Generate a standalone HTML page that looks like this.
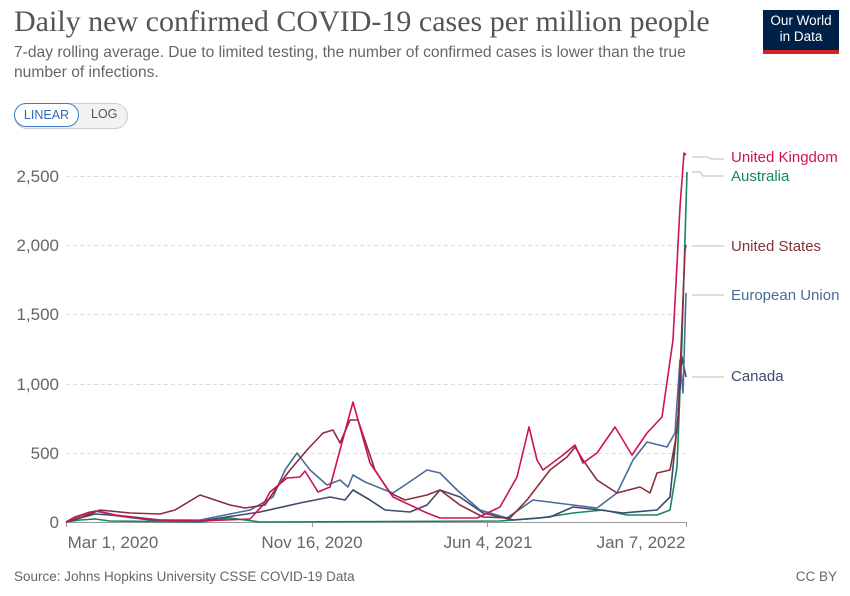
<!DOCTYPE html>
<html><head><meta charset="utf-8"><style>
body{margin:0;width:850px;height:596px;background:#fff;overflow:hidden;font-family:"Liberation Sans",sans-serif;position:relative}
.t{position:absolute;white-space:nowrap}
</style></head><body>
<div class="t" style="left:14px;top:5px;font-family:'Liberation Serif',serif;font-size:30px;color:#555">Daily new confirmed COVID-19 cases per million people</div>
<div class="t" style="left:14px;top:43px;font-size:15.6px;color:#666;line-height:20px">7-day rolling average. Due to limited testing, the number of confirmed cases is lower than the true<br>number of infections.</div>
<div style="position:absolute;left:763px;top:10px;width:76px;height:44px;background:#002147"></div>
<div style="position:absolute;left:763px;top:50px;width:76px;height:4px;background:#ce261e"></div>
<div class="t" style="left:763px;top:13px;width:76px;text-align:center;color:#fff;font-size:13.5px;line-height:16px">Our World<br>in Data</div>
<div style="position:absolute;left:14px;top:103px;width:112px;height:24px;border:1px solid #ccc;border-radius:13px;background:#f2f2f2"></div>
<div style="position:absolute;left:14px;top:103px;width:63px;height:22px;border:1px solid #3d7cc9;border-radius:13px;background:#fff;color:#2f6bb5;font-size:12.5px;text-align:center;line-height:22px">LINEAR</div>
<div class="t" style="left:91px;top:107px;font-size:12.5px;color:#555">LOG</div>
<svg width="850" height="596" style="position:absolute;left:0;top:0" font-family="Liberation Sans" >
<g stroke="#ddd" stroke-dasharray="4,3" stroke-width="1">
<line x1="66" x2="686" y1="453.5" y2="453.5"/><line x1="66" x2="686" y1="384.5" y2="384.5"/><line x1="66" x2="686" y1="314.5" y2="314.5"/><line x1="66" x2="686" y1="245.5" y2="245.5"/><line x1="66" x2="686" y1="176.5" y2="176.5"/>
</g>
<line x1="66" x2="686" y1="522.5" y2="522.5" stroke="#999"/>
<g stroke="#999"><line x1="66.5" x2="66.5" y1="522" y2="527"/><line x1="312.5" x2="312.5" y1="522" y2="527"/><line x1="487.5" x2="487.5" y1="522" y2="527"/><line x1="686.5" x2="686.5" y1="522" y2="527"/></g>
<g font-size="17" fill="#666" text-anchor="end">
<text x="59" y="528">0</text><text x="59" y="459">500</text><text x="59" y="390">1,000</text><text x="59" y="320">1,500</text><text x="59" y="251">2,000</text><text x="59" y="182">2,500</text>
</g>
<g font-size="17" fill="#666" text-anchor="middle">
<text x="113" y="548">Mar 1, 2020</text><text x="312" y="548">Nov 16, 2020</text><text x="488" y="548">Jun 4, 2021</text><text x="641" y="548">Jan 7, 2022</text>
</g>
<g fill="none" stroke-width="1.6" stroke-linejoin="round">
<polyline stroke="#18875a" points="66,522 80,520 95,519 110,521 200,522 230,518 260,522 500,521 540,518 573,513 603,510 627,515 657,515 670,510 677,467 682,340 687,172"/>
<polyline stroke="#3b4b6b" points="66,522 80,518 95,514 110,515 150,520 200,521 260,512 300,503 330,497 345,500 353,490 370,500 385,510 410,512 427,505 440,490 460,497 483,513 513,520 550,517 573,507 600,510 623,513 657,510 670,497 678,417 682,357 686,377"/>
<polyline stroke="#4c6a9c" points="66,522 80,516 95,511 115,515 160,520 200,520 250,510 273,497 285,470 297,453 310,470 327,485 340,480 348,487 353,475 365,482 385,490 393,493 405,485 427,470 440,473 457,490 480,510 507,518 533,500 573,505 597,508 617,493 633,460 647,442 667,447 675,433 680,360 683,393 686,293"/>
<polyline stroke="#883039" points="66,522 80,518 100,510 130,513 160,514 175,510 200,495 230,505 245,508 265,505 275,490 290,470 307,450 323,433 333,430 340,443 350,420 358,420 375,470 390,493 405,500 427,495 440,490 460,505 483,517 510,518 527,500 550,470 567,457 575,447 583,460 597,480 617,493 640,487 650,493 657,473 670,470 675,443 678,423 685,250 686,245"/>
<polyline stroke="#ce1256" points="66,522 75,517 90,512 98,511 120,516 160,520 200,521 250,519 263,505 270,492 287,478 300,477 305,471 318,492 330,487 340,450 353,402 358,420 370,463 393,497 427,513 440,518 477,518 500,507 517,477 529,427 537,460 543,470 563,455 575,445 583,463 597,453 615,427 632,455 647,433 662,417 673,340 680,207 684,153 686,155"/>
</g>
<g stroke="#bbb" fill="none"><polyline points="692,157 708,157 711,159 724,159"/><polyline points="692,172 700,172 703,176 724,176"/><line x1="692" x2="724" y1="246" y2="246"/><line x1="692" x2="724" y1="295" y2="295"/><line x1="692" x2="724" y1="377" y2="377"/></g>
<g font-size="15">
<text x="731" y="162" fill="#ce1256">United Kingdom</text><text x="731" y="181" fill="#18875a">Australia</text><text x="731" y="251" fill="#883039">United States</text><text x="731" y="300" fill="#4c6a9c">European Union</text><text x="731" y="381" fill="#3b4b6b">Canada</text>
</g>
<text x="14" y="581" font-size="13.5" fill="#666">Source: Johns Hopkins University CSSE COVID-19 Data</text>
<text x="837" y="581" font-size="13.5" fill="#666" text-anchor="end">CC BY</text>
</svg>
</body></html>
